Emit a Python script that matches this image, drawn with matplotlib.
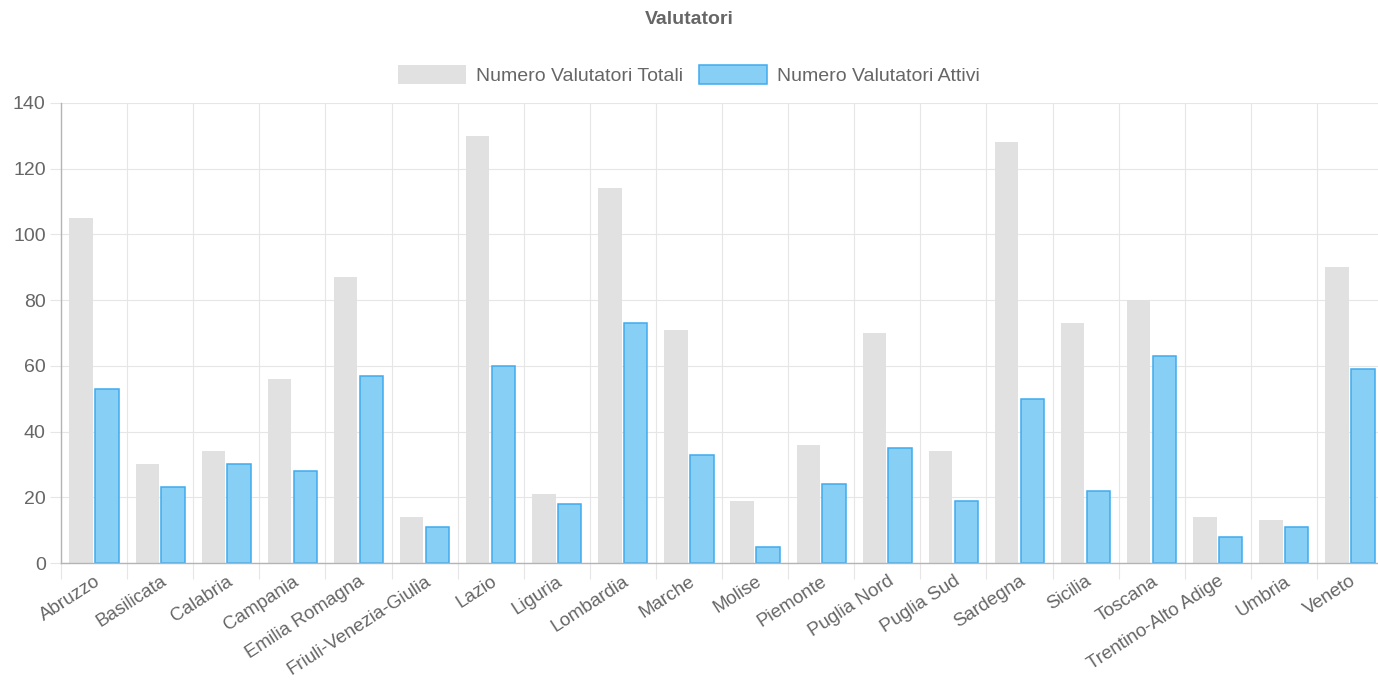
import numpy as np
import matplotlib
matplotlib.use('Agg')
import matplotlib.pyplot as plt
from matplotlib.ticker import FixedLocator

# dati
regioni = ['Abruzzo', 'Basilicata', 'Calabria', 'Campania', 'Emilia Romagna',
           'Friuli-Venezia-Giulia', 'Lazio', 'Liguria', 'Lombardia', 'Marche',
           'Molise', 'Piemonte', 'Puglia Nord', 'Puglia Sud', 'Sardegna',
           'Sicilia', 'Toscana', 'Trentino-Alto Adige', 'Umbria', 'Veneto']
totali = [105, 30, 34, 56, 87, 14, 130, 21, 114, 71,
          19, 36, 70, 34, 128, 73, 80, 14, 13, 90]
attivi = [53, 23, 30, 28, 57, 11, 60, 18, 73, 33,
          5, 24, 35, 19, 50, 22, 63, 8, 11, 59]
y_ticks = [0, 20, 40, 60, 80, 100, 120, 140]

plt.rcParams['font.family'] = ['Liberation Sans', 'DejaVu Sans']
testo = '#666666'
griglia = '#e6e6e6'
asse = '#b4b4b4'

W, H = 1378, 680
fig = plt.figure(figsize=(W / 100, H / 100), dpi=100)
# area del grafico in pixel: x 61..1383, y 103..563
ax = fig.add_axes([61 / W, (H - 563) / H, (1383 - 61) / W, 460 / H])

x = np.arange(len(regioni))
ax.bar(x - 0.195, totali, width=0.355, color='#e1e1e1', linewidth=0,
       label='Numero Valutatori Totali', zorder=2)
ax.bar(x + 0.195, attivi, width=0.355, color='#88cff5', edgecolor='#3fabef',
       linewidth=1.1, label='Numero Valutatori Attivi', zorder=2)

ax.set_xlim(-0.5, len(regioni) - 0.5)
ax.set_ylim(0, 140)

# griglia verticale ai confini delle categorie
ax.xaxis.set_major_locator(FixedLocator(x))
ax.xaxis.set_minor_locator(FixedLocator(np.arange(len(regioni)) - 0.5))
ax.set_xticklabels(regioni, rotation=33, ha='right', rotation_mode='anchor',
                   fontsize=13.5, color=testo)
ax.tick_params(axis='x', which='major', length=0, pad=7)
ax.tick_params(axis='x', which='minor', length=11.5, color=griglia, width=0.8)
ax.grid(axis='x', which='minor', color=griglia, linewidth=0.8, zorder=0)

ax.set_yticks(y_ticks)
ax.tick_params(axis='y', length=8, color=griglia, width=0.8, pad=3,
               labelsize=14, labelcolor=testo)
ax.grid(axis='y', which='major', color=griglia, linewidth=0.8, zorder=0)

for lato in ['top', 'right']:
    ax.spines[lato].set_visible(False)
ax.spines['left'].set_color(asse)
ax.spines['bottom'].set_color(asse)
ax.spines['left'].set_linewidth(1.0)
ax.spines['bottom'].set_linewidth(1.0)
ax.set_axisbelow(True)

fig.text(0.5, 1 - 20 / H, 'Valutatori', ha='center', va='center',
         fontsize=14, fontweight='bold', color=testo)

fig.legend(loc='center', bbox_to_anchor=(0.5, 1 - 75 / H), ncol=2,
           frameon=False, fontsize=14, labelcolor=testo,
           handlelength=3.5, handleheight=1.1, handletextpad=0.5,
           columnspacing=0.8)

fig.savefig('out.png', dpi=100)
